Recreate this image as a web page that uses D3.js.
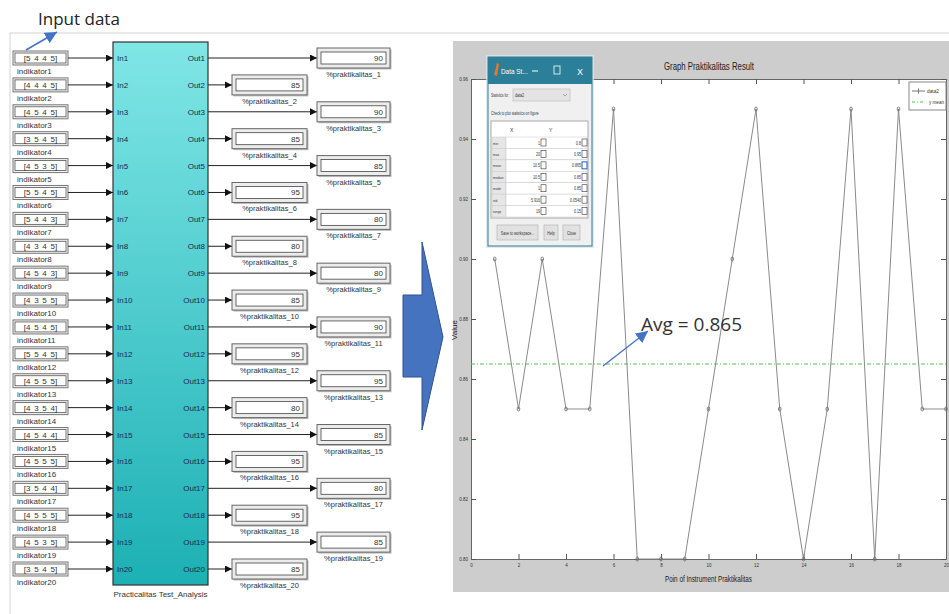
<!DOCTYPE html>
<html><head><meta charset="utf-8">
<script src="https://cdn.jsdelivr.net/npm/d3@7"></script>
<style>body{margin:0;background:#fff}svg{display:block}</style>
</head><body>
<script>
// ---------- data ----------
const inputVectors = ["[5 4 4 5]","[4 4 4 5]","[4 5 4 5]","[3 5 4 5]","[4 5 3 5]","[5 5 4 5]","[5 4 4 3]","[4 3 4 5]","[4 5 4 3]","[4 3 5 5]","[4 5 4 5]","[5 5 4 5]","[4 5 5 5]","[4 3 5 4]","[4 5 4 4]","[4 5 5 5]","[3 5 4 4]","[4 5 5 5]","[4 5 3 5]","[3 5 4 5]"];
const displayValues = [90,85,90,85,85,95,80,80,80,85,90,95,95,80,85,95,80,95,85,85];
const plotValues = [0.90,0.85,0.90,0.85,0.85,0.95,0.80,0.80,0.80,0.85,0.90,0.95,0.85,0.80,0.85,0.95,0.80,0.95,0.85,0.85];
const meanValue = 0.865;
const xTicks = [0,2,4,6,8,10,12,14,16,18,20];
const yTicks = [0.80,0.82,0.84,0.86,0.88,0.90,0.92,0.94,0.96];
const statRows = ["min","max","mean","median","mode","std","range"];
const statX = ["1","20","10.5","10.5","1","5.916","19"];
const statY = ["0.8","0.95","0.865","0.85","0.85","0.0540","0.15"];
const legendLabels = ["data2","y mean"];

const W=949,H=614;
const svg=d3.select("body").append("svg").attr("width",W).attr("height",H);
const defs=svg.append("defs");
const grad=defs.append("linearGradient").attr("id","blk").attr("x1",0).attr("y1",0).attr("x2",0).attr("y2",1);
grad.append("stop").attr("offset","0%").attr("stop-color","#80e6e6");
grad.append("stop").attr("offset","100%").attr("stop-color","#1cb0b4");
function marker(id,color,size){
  defs.append("marker").attr("id",id).attr("viewBox","0 0 10 10").attr("refX",10).attr("refY",5)
   .attr("markerWidth",size).attr("markerHeight",size).attr("orient","auto").attr("markerUnits","userSpaceOnUse")
   .append("path").attr("d","M0,0L10,5L0,10z").attr("fill",color);
}
marker("ah","#111",7);
marker("blue","#4472c4",12);

const sans="'Liberation Sans', Arial, sans-serif";
const narrow="'Liberation Sans', Arial, sans-serif";
// condense a text selection horizontally
function cond(sel,ratio){
  sel.each(function(){
    const L=this.getComputedTextLength();
    if(L>0) d3.select(this).attr("textLength",L*ratio).attr("lengthAdjust","spacingAndGlyphs");
  });
  return sel;
}

// ---------- frame lines ----------
svg.append("line").attr("x1",10).attr("x2",W).attr("y1",33).attr("y2",33).attr("stroke","#e2e2e2").attr("stroke-width",1.5);
svg.append("line").attr("x1",10).attr("x2",10).attr("y1",33).attr("y2",H).attr("stroke","#d4d4d4");

// Input data annotation
svg.append("text").attr("x",38).attr("y",25).text("Input data").attr("font-family","'Open Sans',sans-serif").attr("font-size",17).attr("fill","#222");
svg.append("line").attr("x1",26).attr("y1",50).attr("x2",57).attr("y2",32).attr("stroke","#4472c4").attr("stroke-width",1.5).attr("marker-end","url(#blue)");

// ---------- simulink diagram ----------
const idx=d3.range(20);
const rowY=d3.scaleLinear().domain([0,19]).range([58,569]);
const blk={x0:113,x1:208,y0:42,y1:585};
svg.append("rect").attr("x",blk.x0).attr("y",blk.y0).attr("width",blk.x1-blk.x0).attr("height",blk.y1-blk.y0)
  .attr("fill","url(#blk)").attr("stroke","#333").attr("stroke-width",1.2);
svg.append("text").attr("x",(blk.x0+blk.x1)/2).attr("y",597).attr("text-anchor","middle").text("Practicalitas Test_Analysis")
  .attr("font-family",sans).attr("font-size",8).attr("fill","#333");

const rows=svg.append("g").selectAll("g").data(idx).join("g");
rows.append("rect").attr("x",13).attr("y",i=>rowY(i)-7).attr("width",55).attr("height",14).attr("fill","#f4f4f4").attr("stroke","#777");
rows.append("rect").attr("x",15).attr("y",i=>rowY(i)-5).attr("width",51).attr("height",10).attr("fill","#fff").attr("stroke","#555").attr("stroke-width",0.8);
rows.append("text").attr("x",40.5).attr("y",i=>rowY(i)+3).attr("text-anchor","middle").text(i=>inputVectors[i])
  .attr("font-family",sans).attr("font-size",8).attr("fill","#333").attr("word-spacing",1.5);
rows.append("text").attr("x",17).attr("y",i=>rowY(i)+16).text(i=>"indikator"+(i+1))
  .attr("font-family",sans).attr("font-size",8).attr("fill","#333");
rows.append("line").attr("x1",68).attr("x2",blk.x0).attr("y1",i=>rowY(i)).attr("y2",i=>rowY(i)).attr("stroke","#222").attr("marker-end","url(#ah)");
rows.append("text").attr("x",117).attr("y",i=>rowY(i)+3).text(i=>"In"+(i+1)).attr("font-family",sans).attr("font-size",8).attr("fill","#1b2a4a");
rows.append("text").attr("x",205).attr("y",i=>rowY(i)+3).attr("text-anchor","end").text(i=>"Out"+(i+1)).attr("font-family",sans).attr("font-size",8).attr("fill","#1b2a4a");
const bx=i=> i%2===0 ? 317 : 232;
const bw=i=> i%2===0 ? 73 : 75;
rows.append("line").attr("x1",blk.x1).attr("x2",i=>bx(i)).attr("y1",i=>rowY(i)).attr("y2",i=>rowY(i)).attr("stroke","#222").attr("marker-end","url(#ah)");
rows.append("rect").attr("x",i=>bx(i)+1.5).attr("y",i=>rowY(i)-8.5).attr("width",i=>bw(i)).attr("height",20).attr("fill","#bbb");
rows.append("rect").attr("x",i=>bx(i)).attr("y",i=>rowY(i)-10).attr("width",i=>bw(i)).attr("height",20).attr("fill","#ececec").attr("stroke","#666");
rows.append("rect").attr("x",i=>bx(i)+4).attr("y",i=>rowY(i)-6).attr("width",i=>bw(i)-8).attr("height",12).attr("fill","#fff").attr("stroke","#444").attr("stroke-width",0.8);
rows.append("text").attr("x",i=>bx(i)+bw(i)-7).attr("y",i=>rowY(i)+3).attr("text-anchor","end").text(i=>displayValues[i])
  .attr("font-family",sans).attr("font-size",8).attr("fill","#333");
rows.append("text").attr("x",i=>bx(i)+bw(i)/2).attr("y",i=>rowY(i)+19).attr("text-anchor","middle").text(i=>"%praktikalitas_"+(i+1))
  .attr("font-family",sans).attr("font-size",7.5).attr("fill","#333");

// big blue arrow
svg.append("path").attr("d","M403,295L422,295L422,242L443,337L422,430L422,377L403,377Z")
  .attr("fill","#4673c0").attr("stroke","#2f528f").attr("stroke-width",1);

// ---------- MATLAB figure ----------
svg.append("rect").attr("x",453).attr("y",41).attr("width",W-453).attr("height",551).attr("fill","#cdcdcd");
const x=d3.scaleLinear().domain([0,20]).range([471,946]);
const y=d3.scaleLinear().domain([0.80,0.96]).range([559,79]);
svg.append("rect").attr("x",x(0)).attr("y",y(0.96)).attr("width",x(20)-x(0)).attr("height",y(0.80)-y(0.96)).attr("fill","#fff");
const ax=svg.append("g");
ax.append("g").attr("transform",`translate(0,${y(0.80)})`).call(d3.axisBottom(x).tickValues(xTicks).tickSize(-5).tickFormat(d3.format("d")).tickPadding(4));
ax.append("g").attr("transform",`translate(0,${y(0.96)})`).call(d3.axisTop(x).tickValues(xTicks).tickSize(-5).tickFormat(""));
ax.append("g").attr("transform",`translate(${x(0)},0)`).call(d3.axisLeft(y).tickValues(yTicks).tickSize(-5).tickFormat(d3.format(".2f")).tickPadding(3));
ax.append("g").attr("transform",`translate(${x(20)},0)`).call(d3.axisRight(y).tickValues(yTicks).tickSize(-5).tickFormat(""));
ax.selectAll(".domain").attr("stroke","#666");
ax.selectAll(".tick line").attr("stroke","#555");
cond(ax.selectAll("text").attr("font-family",narrow).attr("font-size",6).attr("fill","#333"),0.75);

// mean line
svg.append("line").attr("x1",x(0)).attr("x2",x(20)).attr("y1",y(meanValue)).attr("y2",y(meanValue))
  .attr("stroke","#4fc24f").attr("stroke-width",1).attr("stroke-dasharray","4,2,1,2");
// data line
const pts=plotValues.map((v,i)=>[i+1,v]);
svg.append("path").attr("d",d3.line().x(d=>x(d[0])).y(d=>y(d[1]))(pts)).attr("fill","none").attr("stroke","#8a8a8a").attr("stroke-width",1);
svg.append("g").selectAll("ellipse").data(pts).join("ellipse").attr("cx",d=>x(d[0])).attr("cy",d=>y(d[1])).attr("rx",1.3).attr("ry",2)
  .attr("fill","none").attr("stroke","#666").attr("stroke-width",0.8);

// title & labels
svg.append("text").attr("x",664).attr("y",70).text("Graph Praktikalitas Result").attr("font-family",narrow).attr("font-size",11).attr("fill","#222")
  .attr("textLength",90).attr("lengthAdjust","spacingAndGlyphs");
svg.append("text").attr("x",665).attr("y",582).text("Poin of Instrument Praktikalitas").attr("font-family",narrow).attr("font-size",9).attr("fill","#222")
  .attr("textLength",87).attr("lengthAdjust","spacingAndGlyphs");
svg.append("text").attr("transform","translate(457,330) rotate(-90)").attr("text-anchor","middle").text("Value").attr("font-family",sans).attr("font-size",8).attr("fill","#222");

// legend
const lg=svg.append("g");
lg.append("rect").attr("x",909).attr("y",82).attr("width",37).attr("height",28).attr("fill","#fff").attr("stroke","#888");
lg.append("line").attr("x1",912).attr("x2",925).attr("y1",91).attr("y2",91).attr("stroke","#777");
lg.append("path").attr("d","M918.5,88.5V93.5").attr("stroke","#777");
lg.append("line").attr("x1",912).attr("x2",925).attr("y1",102).attr("y2",102).attr("stroke","#4fc24f").attr("stroke-dasharray","3,2,1,2");
lg.append("text").attr("x",927).attr("y",93).text(legendLabels[0]).attr("font-family",narrow).attr("font-size",6).attr("fill","#333")
  .attr("textLength",12).attr("lengthAdjust","spacingAndGlyphs");
lg.append("text").attr("x",929).attr("y",104).text(legendLabels[1]).attr("font-family",narrow).attr("font-size",6).attr("fill","#333")
  .attr("textLength",15).attr("lengthAdjust","spacingAndGlyphs");

// avg annotation
svg.append("line").attr("x1",603).attr("y1",366).attr("x2",648).attr("y2",331).attr("stroke","#4472c4").attr("stroke-width",1.3).attr("marker-end","url(#blue)");
svg.append("text").attr("x",641).attr("y",331).text("Avg = "+meanValue).attr("font-family","'Open Sans',sans-serif").attr("font-size",19).attr("fill","#333");

// ---------- Data Statistics dialog ----------
const dlg=svg.append("g");
dlg.append("rect").attr("x",486).attr("y",55).attr("width",108).attr("height",193).attr("fill","#dde3e6").attr("opacity",0.8);
dlg.append("rect").attr("x",488).attr("y",57).attr("width",104).attr("height",189).attr("fill","#f0f0f0").attr("stroke","#2b7f98");
dlg.append("rect").attr("x",488).attr("y",57).attr("width",104).attr("height",27).attr("fill","#2b7f98");
dlg.append("path").attr("d","M494,75L497,63L499,64L497,76Z").attr("fill","#e8762b");
const dt=dlg.append("text").attr("x",501).attr("y",74).text("Data St...").attr("font-family",narrow).attr("font-size",8).attr("fill","#fff");
cond(dt,0.8);
dlg.append("line").attr("x1",532).attr("x2",538).attr("y1",71).attr("y2",71).attr("stroke","#fff");
dlg.append("rect").attr("x",554).attr("y",66).attr("width",6).attr("height",8).attr("fill","none").attr("stroke","#fff").attr("stroke-width",0.8);
dlg.append("text").attr("x",580).attr("y",75).attr("text-anchor","middle").text("X").attr("font-family",sans).attr("font-size",9).attr("fill","#fff");
cond(dlg.append("text").attr("x",491).attr("y",97).text("Statistics for:").attr("font-family",narrow).attr("font-size",4.5).attr("fill","#333"),0.7);
dlg.append("rect").attr("x",513).attr("y",89).attr("width",57).attr("height",12).attr("fill","#e4e4e4").attr("stroke","#ccc");
dlg.append("path").attr("d","M563,94L565,96L567,94").attr("fill","none").attr("stroke","#777").attr("stroke-width",0.6);
cond(dlg.append("text").attr("x",515).attr("y",97).text("data2").attr("font-family",narrow).attr("font-size",4.5).attr("fill","#333"),0.8);
cond(dlg.append("text").attr("x",491).attr("y",115).text("Check to plot statistics on figure").attr("font-family",narrow).attr("font-size",4.5).attr("fill","#333"),0.75);
dlg.append("rect").attr("x",491).attr("y",121).attr("width",97).attr("height",97).attr("fill","#fff").attr("stroke","#aaa");
dlg.append("text").attr("x",510).attr("y",132).text("X").attr("font-family",narrow).attr("font-size",5).attr("fill","#333");
dlg.append("text").attr("x",549).attr("y",132).text("Y").attr("font-family",narrow).attr("font-size",5).attr("fill","#333");
const rY=d3.scaleBand().domain(statRows).range([137,217]);
const sr=dlg.append("g").selectAll("g").data(statRows).join("g");
sr.append("rect").attr("x",492).attr("y",d=>rY(d)).attr("width",14).attr("height",rY.bandwidth()).attr("fill","#e6e6e6").attr("stroke","#c8c8c8").attr("stroke-width",0.5);
sr.append("rect").attr("x",506).attr("y",d=>rY(d)).attr("width",81).attr("height",rY.bandwidth()).attr("fill","#fff").attr("stroke","#c8c8c8").attr("stroke-width",0.5);
cond(sr.append("text").attr("x",493).attr("y",d=>rY(d)+7.5).text(d=>d).attr("font-family",narrow).attr("font-size",4).attr("fill","#333"),0.8);
cond(sr.append("text").attr("x",540).attr("y",d=>rY(d)+7.5).attr("text-anchor","end").text((d,i)=>statX[i]).attr("font-family",narrow).attr("font-size",4.5).attr("fill","#333"),0.8);
cond(sr.append("text").attr("x",581).attr("y",d=>rY(d)+7.5).attr("text-anchor","end").text((d,i)=>statY[i]).attr("font-family",narrow).attr("font-size",4.5).attr("fill","#333"),0.8);
sr.append("rect").attr("x",541).attr("y",d=>rY(d)+2).attr("width",5).attr("height",7).attr("fill","#fff").attr("stroke","#333").attr("stroke-width",0.6);
sr.append("rect").attr("x",582).attr("y",d=>rY(d)+2).attr("width",5).attr("height",7).attr("fill","#fff").attr("stroke",(d,i)=>d==="mean"?"#1f5fbf":"#333").attr("stroke-width",(d)=>d==="mean"?1:0.6);
const btns=[["Save to workspace...",497,41],["Help",544,14],["Close",563,17]];
const bg=dlg.append("g").selectAll("g").data(btns).join("g");
bg.append("rect").attr("x",d=>d[1]).attr("y",225).attr("width",d=>d[2]).attr("height",15).attr("fill","#e1e1e1").attr("stroke","#adadad").attr("stroke-width",0.6);
cond(bg.append("text").attr("x",d=>d[1]+d[2]/2).attr("y",234.5).attr("text-anchor","middle").text(d=>d[0]).attr("font-family",narrow).attr("font-size",4.5).attr("fill","#333"),0.8);
</script>
</body></html>
